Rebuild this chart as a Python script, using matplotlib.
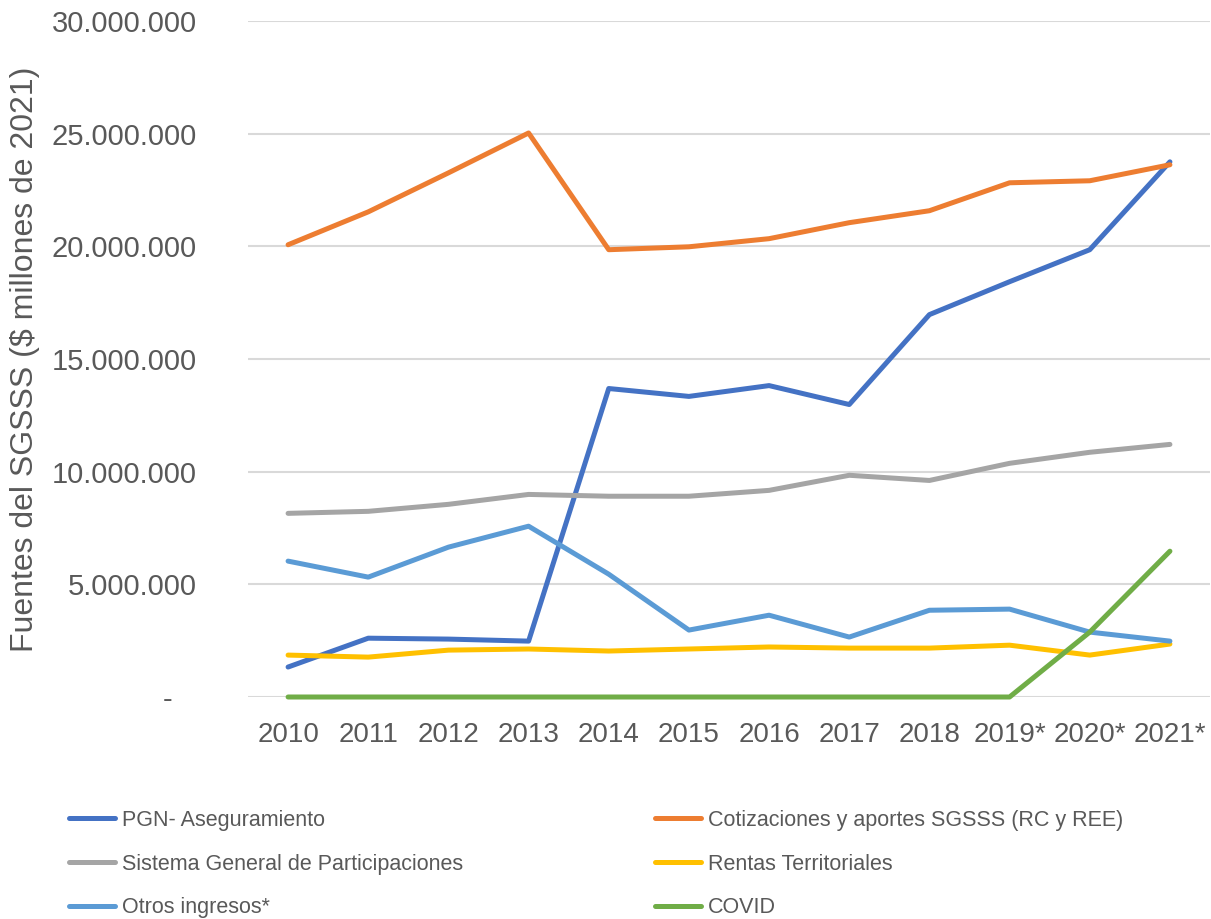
import matplotlib
matplotlib.use("Agg")
import matplotlib.pyplot as plt
from matplotlib.ticker import FuncFormatter, MultipleLocator

# Datos (valores en $ millones de 2021)
anios = ['2010', '2011', '2012', '2013', '2014', '2015', '2016', '2017', '2018', '2019*', '2020*', '2021*']

pgn = [1330000, 2610000, 2570000, 2480000, 13690000, 13340000, 13820000, 12980000, 16970000, 18430000, 19850000, 23750000]
cotizaciones = [20070000, 21530000, 23260000, 25030000, 19850000, 19980000, 20340000, 21050000, 21580000, 22820000, 22910000, 23620000]
sgp = [8150000, 8240000, 8550000, 8990000, 8910000, 8910000, 9170000, 9840000, 9610000, 10370000, 10860000, 11210000]
rentas = [1860000, 1770000, 2080000, 2130000, 2040000, 2130000, 2220000, 2170000, 2170000, 2300000, 1860000, 2350000]
otros = [6030000, 5320000, 6650000, 7580000, 5450000, 2970000, 3630000, 2660000, 3850000, 3900000, 2880000, 2480000]
covid = [0, 0, 0, 0, 0, 0, 0, 0, 0, 0, 2880000, 6470000]

series = [
    ('PGN- Aseguramiento', pgn, '#4472C4'),
    ('Cotizaciones y aportes SGSSS (RC y REE)', cotizaciones, '#ED7D31'),
    ('Sistema General de Participaciones', sgp, '#A5A5A5'),
    ('Rentas Territoriales', rentas, '#FFC000'),
    ('Otros ingresos*', otros, '#5B9BD5'),
    ('COVID', covid, '#70AD47'),
]

texto = '#595959'
plt.rcParams['font.family'] = ['Liberation Sans', 'DejaVu Sans']

fig = plt.figure(figsize=(12.11, 9.19), dpi=100)
ax = fig.add_axes([248 / 1211, 1 - 697 / 919, 962 / 1211, 676 / 919])

x = list(range(len(anios)))
lineas = {}
for nombre, valores, color in series:
    l, = ax.plot(x, valores, color=color, linewidth=3.6, solid_capstyle='round',
                 label=nombre, clip_on=False)
    lineas[nombre] = l

ax.set_xlim(-0.5, len(anios) - 0.5)
ax.set_ylim(0, 30000000)
ax.yaxis.set_major_locator(MultipleLocator(5000000))


def miles(v, pos):
    if v == 0:
        return '-   '
    return f'{int(v):,}'.replace(',', '.')


ax.yaxis.set_major_formatter(FuncFormatter(miles))
ax.set_xticks(x)
ax.set_xticklabels(anios)

ax.grid(axis='y', color='#D9D9D9', linewidth=1.5)
ax.set_axisbelow(True)
for s in ax.spines.values():
    s.set_visible(False)
ax.tick_params(axis='both', length=0, colors=texto)
ax.tick_params(axis='y', labelsize=21, pad=37)
ax.tick_params(axis='x', labelsize=20, pad=18)

ax.set_ylabel('Fuentes del SGSSS ($ millones de 2021)', fontsize=23, color=texto)
ax.yaxis.set_label_coords(-0.216, 0.5)

# Leyenda en dos columnas (orden por filas como en el original)
orden = ['PGN- Aseguramiento', 'Sistema General de Participaciones', 'Otros ingresos*',
         'Cotizaciones y aportes SGSSS (RC y REE)', 'Rentas Territoriales', 'COVID']
fig.legend([lineas[n] for n in orden], orden, ncol=2, loc='upper left',
           bbox_to_anchor=(69 / 1211, 1 - 810 / 919), frameon=False, fontsize=15.5,
           labelcolor=texto, handlelength=2.14, handletextpad=0.3, columnspacing=8.95,
           labelspacing=1.05, borderpad=0, borderaxespad=0)

fig.savefig('out.png', dpi=100)
